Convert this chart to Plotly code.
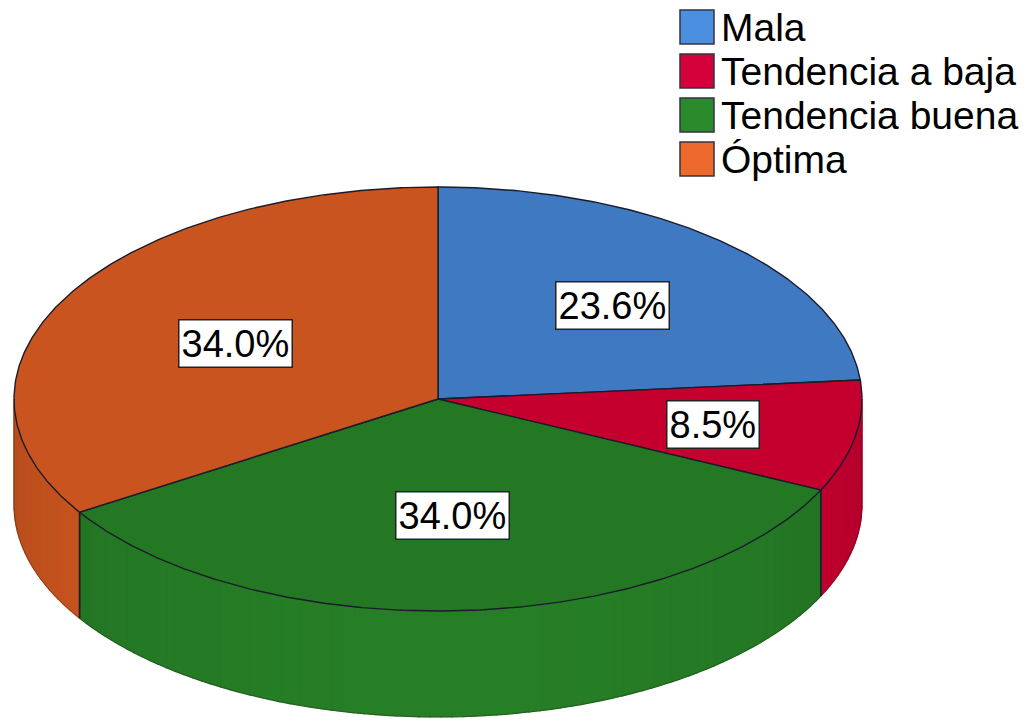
import numpy as np
import plotly.graph_objects as go

# ---- data -------------------------------------------------------------
categories = ["Mala", "Tendencia a baja", "Tendencia buena", "Óptima"]
percentages = [23.6, 8.5, 34.0, 34.0]

# ---- styling ----------------------------------------------------------
top_colors = ["#3F79C2", "#C5002F", "#247824", "#C9541F"]
legend_colors = ["#4A8FE0", "#D4003A", "#2B8A2B", "#EE6A2C"]
edge_color = "#1B1B2B"
FONT = "Liberation Sans, Arial, sans-serif"

W, H = 1027, 721
CX, CY = 438, 399          # centre of the top face
RX, RY = 424, 212          # radii of the top ellipse
DEPTH = 106                # thickness of the disc

# label box centres, one per slice
label_xy = [(612, 305), (713, 424), (452, 515), (235, 343)]


def ellipse_pts(t0, t1, dz=0.0, step=0.5):
    n = max(2, int(np.ceil(abs(t1 - t0) / step)) + 1)
    t = np.radians(np.linspace(t0, t1, n))
    return CX + RX * np.sin(t), CY - RY * np.cos(t) + dz


def shade(hex_color, f):
    h = hex_color.lstrip("#")
    r, g, b = (int(h[i:i + 2], 16) for i in (0, 2, 4))
    r, g, b = (max(0, min(255, int(round(c * f)))) for c in (r, g, b))
    return f"rgb({r},{g},{b})"


total = sum(percentages)
bounds = np.concatenate([[0.0], np.cumsum(percentages) / total * 360.0])

fig = go.Figure()

# ---- side wall (only the front half, 90°..270°, is visible) -------------
for i, col in enumerate(top_colors):
    lo, hi = max(bounds[i], 90.0), min(bounds[i + 1], 270.0)
    if lo >= hi:
        continue
    edges = np.linspace(lo, hi, max(2, int(np.ceil((hi - lo) / 1.5)) + 1))
    for t0, t1 in zip(edges[:-1], edges[1:]):
        tm = np.radians((t0 + t1) / 2)
        f = 0.9 + 0.15 * (-np.cos(tm))
        c = shade(col, f)
        xt, yt = ellipse_pts(t0, t1)
        xb, yb = ellipse_pts(t1, t0, DEPTH)
        fig.add_trace(go.Scatter(
            x=np.concatenate([xt, xb, xt[:1]]),
            y=np.concatenate([yt, yb, yt[:1]]),
            mode="lines", fill="toself", fillcolor=c,
            line=dict(color=c, width=1.2), hoverinfo="skip"))
    # vertical edges where slices meet on the wall
    for t in (bounds[i], bounds[i + 1]):
        if 90.0 < t < 270.0:
            x0, y0 = ellipse_pts(t, t)
            fig.add_trace(go.Scatter(
                x=[x0[0], x0[0]], y=[y0[0], y0[0] + DEPTH],
                mode="lines", line=dict(color=edge_color, width=1.6),
                hoverinfo="skip"))

# outer contour of the wall
xl, yl = ellipse_pts(90, 270, DEPTH)
fig.add_trace(go.Scatter(
    x=np.concatenate([[CX + RX], xl, [CX - RX]]),
    y=np.concatenate([[CY], yl, [CY]]),
    mode="lines", line=dict(color="rgba(40,30,30,0.35)", width=1),
    hoverinfo="skip"))

# ---- top face -----------------------------------------------------------
for i, col in enumerate(top_colors):
    xs, ys = ellipse_pts(bounds[i], bounds[i + 1])
    fig.add_trace(go.Scatter(
        x=np.concatenate([[CX], xs, [CX]]),
        y=np.concatenate([[CY], ys, [CY]]),
        mode="lines", fill="toself", fillcolor=col,
        line=dict(color=edge_color, width=1.4), hoverinfo="skip"))

# ---- percentage labels ----------------------------------------------------
for (lx, ly), p in zip(label_xy, percentages):
    fig.add_annotation(
        x=lx, y=ly, xref="x", yref="y", text=f"{p:.1f}%", showarrow=False,
        font=dict(family=FONT, size=38, color="black"),
        bgcolor="white", bordercolor="#222222", borderwidth=1.5, borderpad=2,
        xanchor="center", yanchor="middle")

# ---- legend ---------------------------------------------------------------
LEG_X0, LEG_X1 = 680, 714
LEG_TOP, LEG_SIZE, LEG_STEP = 10, 34, 44
for k, (name, col) in enumerate(zip(categories, legend_colors)):
    y0 = LEG_TOP + k * LEG_STEP
    fig.add_shape(type="rect", xref="x", yref="y",
                  x0=LEG_X0, x1=LEG_X1, y0=y0, y1=y0 + LEG_SIZE,
                  fillcolor=col, line=dict(color="#333344", width=1.5))
    fig.add_annotation(
        x=LEG_X1 + 5, y=y0 + LEG_SIZE / 2, xref="x", yref="y", text=name,
        showarrow=False, xanchor="left", yanchor="middle",
        font=dict(family=FONT, size=39, color="black"))

fig.update_xaxes(range=[0, W], visible=False, fixedrange=True)
fig.update_yaxes(range=[H, 0], visible=False, fixedrange=True)
fig.update_layout(
    width=W, height=H, margin=dict(l=0, r=0, t=0, b=0),
    paper_bgcolor="white", plot_bgcolor="white",
    showlegend=False, hovermode=False)

fig.write_html("out.html", config={"displayModeBar": False})
